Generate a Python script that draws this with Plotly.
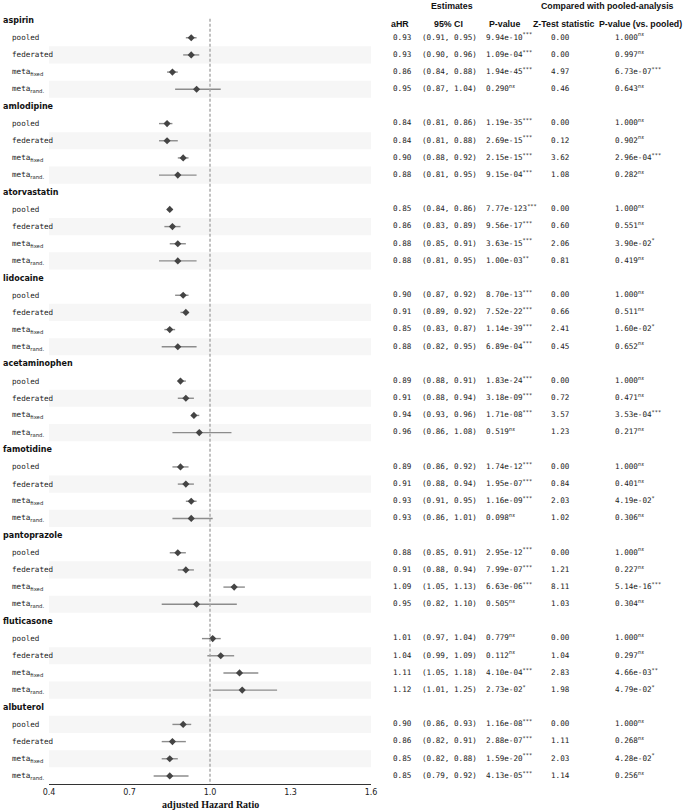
import plotly.graph_objects as go

# forest plot data: 9 drugs x 4 methods (pooled, federated, meta fixed, meta random)
drugs = ["aspirin", "amlodipine", "atorvastatin", "lidocaine", "acetaminophen",
         "famotidine", "pantoprazole", "fluticasone", "albuterol"]
methods = ["pooled", "federated", "fixed", "rand."]

ahr = [[0.93, 0.93, 0.86, 0.95], [0.84, 0.84, 0.90, 0.88], [0.85, 0.86, 0.88, 0.88],
       [0.90, 0.91, 0.85, 0.88], [0.89, 0.91, 0.94, 0.96], [0.89, 0.91, 0.93, 0.93],
       [0.88, 0.91, 1.09, 0.95], [1.01, 1.04, 1.11, 1.12], [0.90, 0.86, 0.85, 0.85]]
ci_low = [[0.91, 0.90, 0.84, 0.87], [0.81, 0.81, 0.88, 0.81], [0.84, 0.83, 0.85, 0.81],
          [0.87, 0.89, 0.83, 0.82], [0.88, 0.88, 0.93, 0.86], [0.86, 0.88, 0.91, 0.86],
          [0.85, 0.88, 1.05, 0.82], [0.97, 0.99, 1.05, 1.01], [0.86, 0.82, 0.82, 0.79]]
ci_high = [[0.95, 0.96, 0.88, 1.04], [0.86, 0.88, 0.92, 0.95], [0.86, 0.89, 0.91, 0.95],
           [0.92, 0.92, 0.87, 0.95], [0.91, 0.94, 0.96, 1.08], [0.92, 0.94, 0.95, 1.01],
           [0.91, 0.94, 1.13, 1.10], [1.04, 1.09, 1.18, 1.25], [0.93, 0.91, 0.88, 0.92]]
p_value = [["9.94e-10", "1.09e-04", "1.94e-45", "0.290"],
           ["1.19e-35", "2.69e-15", "2.15e-15", "9.15e-04"],
           ["7.77e-123", "9.56e-17", "3.63e-15", "1.00e-03"],
           ["8.70e-13", "7.52e-22", "1.14e-39", "6.89e-04"],
           ["1.83e-24", "3.18e-09", "1.71e-08", "0.519"],
           ["1.74e-12", "1.95e-07", "1.16e-09", "0.098"],
           ["2.95e-12", "7.99e-07", "6.63e-06", "0.505"],
           ["0.779", "0.112", "4.10e-04", "2.73e-02"],
           ["1.16e-08", "2.88e-07", "1.59e-20", "4.13e-05"]]
p_sig = [["***", "***", "***", "ns"], ["***", "***", "***", "***"],
         ["***", "***", "***", "**"], ["***", "***", "***", "***"],
         ["***", "***", "***", "ns"], ["***", "***", "***", "ns"],
         ["***", "***", "***", "ns"], ["ns", "ns", "***", "*"],
         ["***", "***", "***", "***"]]
z_stat = [["0.00", "0.00", "4.97", "0.46"], ["0.00", "0.12", "3.62", "1.08"],
          ["0.00", "0.60", "2.06", "0.81"], ["0.00", "0.66", "2.41", "0.45"],
          ["0.00", "0.72", "3.57", "1.23"], ["0.00", "0.84", "2.03", "1.02"],
          ["0.00", "1.21", "8.11", "1.03"], ["0.00", "1.04", "2.83", "1.98"],
          ["0.00", "1.11", "2.03", "1.14"]]
p_vs_pooled = [["1.000", "0.997", "6.73e-07", "0.643"],
               ["1.000", "0.902", "2.96e-04", "0.282"],
               ["1.000", "0.551", "3.90e-02", "0.419"],
               ["1.000", "0.511", "1.60e-02", "0.652"],
               ["1.000", "0.471", "3.53e-04", "0.217"],
               ["1.000", "0.401", "4.19e-02", "0.306"],
               ["1.000", "0.227", "5.14e-16", "0.304"],
               ["1.000", "0.297", "4.66e-03", "4.79e-02"],
               ["1.000", "0.268", "4.28e-02", "0.256"]]
p_vs_pooled_sig = [["ns", "ns", "***", "ns"], ["ns", "ns", "***", "ns"],
                   ["ns", "ns", "*", "ns"], ["ns", "ns", "*", "ns"],
                   ["ns", "ns", "***", "ns"], ["ns", "ns", "*", "ns"],
                   ["ns", "ns", "***", "ns"], ["ns", "ns", "**", "*"],
                   ["ns", "ns", "*", "ns"]]
x_ticks = [0.4, 0.7, 1.0, 1.3, 1.6]

# page geometry (pixels)
W, H = 685, 810
ML, MT, MB = 49, 12, 26
PW, PH = W - ML, H - MT - MB
PLOT_R, TABLE_L = 371, 380
MONO = "DejaVu Sans Mono"
cell_font = dict(family=MONO, size=7.6, color="#222")


def xp(px):
    return (px - ML) / PW


def yp(py):
    return 1 - (py - MT) / PH


def sig(s):
    return "<sup><i>ns</i></sup>" if s == "ns" else "<sup>" + s + "</sup>"


rows, xs, err_p, err_m = [], [], [], []
cols = {393: [], 422: [], 486: [], 551: [], 615: []}
annos, shapes = [], []
for g, drug in enumerate(drugs):
    head = g * 5
    annos.append(dict(x=xp(1), y=head, text="<b>" + drug + "</b>",
                      font=dict(family="DejaVu Sans", size=8, color="#111")))
    for k in range(4):
        r = head + 1 + k
        rows.append(r)
        xs.append(ahr[g][k])
        err_p.append(ci_high[g][k] - ahr[g][k])
        err_m.append(ahr[g][k] - ci_low[g][k])
        if k < 2:
            lab = methods[k]
        else:
            lab = 'meta<sub><span style="font-family:DejaVu Sans">' + methods[k] + '</span></sub>'
        annos.append(dict(x=xp(10), y=r, text=lab, font=cell_font))
        cols[393].append("%.2f" % ahr[g][k])
        cols[422].append("(%.2f, %.2f)" % (ci_low[g][k], ci_high[g][k]))
        cols[486].append(p_value[g][k] + sig(p_sig[g][k]))
        cols[551].append(z_stat[g][k])
        cols[615].append(p_vs_pooled[g][k] + sig(p_vs_pooled_sig[g][k]))
        shaded = (k in (0, 2)) if g == len(drugs) - 1 else (k in (1, 3))
        if shaded:
            shapes.append(dict(type="rect", xref="x", yref="y", x0=0.4, x1=1.6,
                               y0=r - 0.5, y1=r + 0.5, fillcolor="#f6f6f6",
                               line=dict(width=0), layer="below"))

for a in annos:
    a.update(xref="paper", yref="y", xanchor="left", yanchor="middle", showarrow=False)

# column headers
hdr_font = dict(family="Liberation Sans", size=8.8, color="#111")
for cx, cy, t in [(452, 6, "Estimates"), (607, 6, "Compared with pooled-analysis"),
                  (400, 24, "aHR"), (448, 24, "95% CI"), (505, 24, "P-value"),
                  (564, 24, "Z-Test statistic"), (640, 24, "P-value (vs. pooled)")]:
    annos.append(dict(x=xp(cx), y=yp(cy), xref="paper", yref="paper", text="<b>" + t + "</b>",
                      xanchor="center", yanchor="middle", showarrow=False, font=hdr_font))
annos.append(dict(x=xp(210), y=yp(804), xref="paper", yref="paper",
                  text="<b>adjusted Hazard Ratio</b>", xanchor="center", yanchor="middle",
                  showarrow=False, font=dict(family="Liberation Serif", size=10, color="#111")))

shapes.append(dict(type="line", xref="x", yref="y", x0=1.0, x1=1.0, y0=-0.1, y1=44.47,
                   line=dict(color="#a0a0a0", width=1.3, dash="3px,2px")))

traces = [go.Scatter(x=xs, y=rows, mode="markers",
                     marker=dict(symbol="diamond", size=5.5, color="#444"),
                     error_x=dict(type="data", symmetric=False, array=err_p, arrayminus=err_m,
                                  width=0, thickness=1.4, color="#8c8c8c"),
                     hoverinfo="skip")]
# table columns as text traces on a second x axis measured in page pixels
for cx, texts in cols.items():
    traces.append(go.Scatter(x=[cx] * len(rows), y=rows, text=texts, mode="text",
                             textposition="middle right", textfont=cell_font,
                             marker=dict(size=0), xaxis="x2", yaxis="y", hoverinfo="skip",
                             cliponaxis=False))

fig = go.Figure(data=traces)
fig.update_layout(
    width=W, height=H, template="none", showlegend=False,
    margin=dict(l=ML, r=0, t=MT, b=MB, autoexpand=False),
    paper_bgcolor="white", plot_bgcolor="white",
    font=dict(family="DejaVu Sans", size=8, color="#222"),
    xaxis=dict(domain=[0, xp(PLOT_R)], range=[0.4, 1.6], tickvals=x_ticks,
               ticktext=["%.1f" % v for v in x_ticks],
               showgrid=False, zeroline=False, showline=True, linecolor="#333", linewidth=1,
               ticks="", automargin=False,
               tickfont=dict(family="DejaVu Sans", size=8, color="#222")),
    xaxis2=dict(domain=[xp(TABLE_L), 1], range=[TABLE_L, W], anchor="y", visible=False,
                showgrid=False, zeroline=False),
    yaxis=dict(range=[44.47, -0.5], visible=False, showgrid=False, zeroline=False),
    annotations=annos, shapes=shapes,
)
# the page's default 8px body margin would shift the whole figure
fig.write_html("out.html", config={"displayModeBar": False},
               post_script="document.body.style.margin='0px';")
